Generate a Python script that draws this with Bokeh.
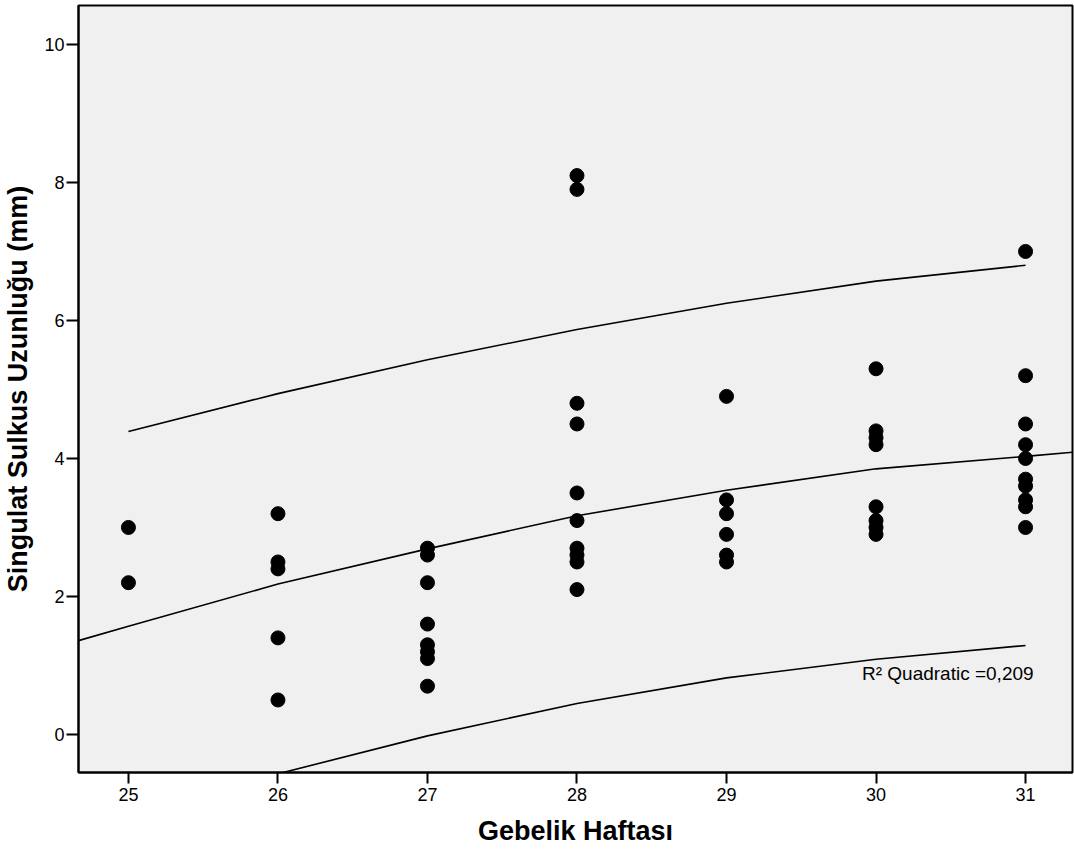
import numpy as np
from bokeh.plotting import figure
from bokeh.models import Range1d, FixedTicker, Label
from bokeh.embed import file_html
from bokeh.resources import INLINE

# ---- data ----
weeks = [25, 26, 27, 28, 29, 30, 31]
week25 = [3.0, 2.2]
week26 = [3.2, 2.5, 2.4, 1.4, 0.5]
week27 = [2.7, 2.6, 2.2, 1.6, 1.3, 1.2, 1.1, 0.7]
week28 = [8.1, 7.9, 4.8, 4.5, 3.5, 3.1, 2.7, 2.6, 2.5, 2.1]
week29 = [4.9, 3.4, 3.2, 2.9, 2.6, 2.5]
week30 = [5.3, 4.4, 4.3, 4.2, 3.3, 3.1, 3.0, 2.9]
week31 = [7.0, 5.2, 4.5, 4.2, 4.0, 3.7, 3.6, 3.4, 3.3, 3.0]

# quadratic fit line (spans the whole axis)
fit_x = [24.666, 25, 26, 27, 28, 29, 30, 31, 31.314]
fit_y = [1.36, 1.57, 2.18, 2.69, 3.17, 3.54, 3.85, 4.03, 4.09]
# 95% individual prediction limits
upper_x = [25, 26, 27, 28, 29, 30, 31]
upper_y = [4.39, 4.94, 5.43, 5.87, 6.25, 6.57, 6.80]
lower_x = [26, 27, 28, 29, 30, 31]
lower_y = [-0.57, -0.02, 0.45, 0.82, 1.09, 1.29]

x_ticks = [25, 26, 27, 28, 29, 30, 31]
y_ticks = [0, 2, 4, 6, 8, 10]
r2_text = "R\u00b2 Quadratic =0,209"
x_title = "Gebelik Haftası"
y_title = "Singulat Sulkus Uzunluğu (mm)"

groups = [week25, week26, week27, week28, week29, week30, week31]
xs = [w for w, g in zip(weeks, groups) for _ in g]
ys = [v for g in groups for v in g]

X_LO, X_HI = 24.666, 31.314
Y_LO, Y_HI = -0.551, 10.565
FONT = "Liberation Sans"

p = figure(width=1074, height=860,
           x_range=Range1d(X_LO, X_HI), y_range=Range1d(Y_LO, Y_HI),
           output_backend="svg", toolbar_location=None,
           min_border_left=78, min_border_right=2,
           min_border_top=5, min_border_bottom=88,
           background_fill_color="#f0f0f0", border_fill_color="white")
p.outline_line_color = "black"
p.outline_line_width = 2
p.grid.visible = False

for ax in (p.xaxis[0], p.yaxis[0]):
    ax.minor_tick_line_color = None
    ax.major_tick_in = 0
    ax.major_tick_line_width = 2
    ax.major_tick_line_color = "black"
    ax.axis_line_width = 2
    ax.axis_line_color = "black"
    ax.major_label_text_font = FONT
    ax.major_label_text_font_size = "18px"
    ax.major_label_text_color = "black"
    ax.axis_label_text_font = FONT
    ax.axis_label_text_font_style = "bold"
    ax.axis_label_text_font_size = "27px"
    ax.axis_label_text_color = "black"

p.xaxis.ticker = FixedTicker(ticks=x_ticks)
p.yaxis.ticker = FixedTicker(ticks=y_ticks)
p.xaxis.major_tick_out = 11
p.yaxis.major_tick_out = 12
p.xaxis.major_label_standoff = 4
p.yaxis.major_label_standoff = 2
p.xaxis.axis_label = x_title
p.yaxis.axis_label = y_title
p.xaxis.axis_label_standoff = 12
p.yaxis.axis_label_standoff = 8

p.line(fit_x, fit_y, line_color="black", line_width=1.6, line_join="round")
p.line(upper_x, upper_y, line_color="black", line_width=1.6, line_join="round")
p.line(lower_x, lower_y, line_color="black", line_width=1.6, line_join="round")

p.scatter(xs, ys, size=14, color="black", line_color="black")

p.add_layout(Label(x=29.906, y=0.884, text=r2_text, text_font=FONT,
                   text_font_size="19px", text_color="black",
                   text_baseline="alphabetic", text_align="left"))

open("out.html", "w").write(file_html(p, INLINE))
